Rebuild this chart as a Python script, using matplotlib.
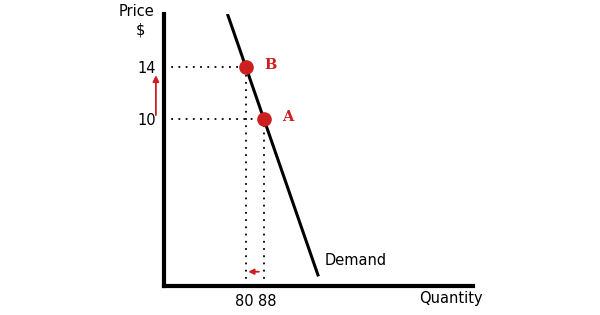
import matplotlib.pyplot as plt
from matplotlib.transforms import ScaledTranslation

# points on the demand curve
point_names = ["B", "A"]
quantities = [80, 88]
prices = [14, 10]

# demand line end points
demand_q = [72, 112]
demand_p = [18, -2]

x_ticks = [80, 88]
y_ticks = [14, 10]

red = "#cc1f1f"

fig = plt.figure(figsize=(6, 3.15), dpi=100)
ax = fig.add_axes([164 / 600, 29 / 315, 309 / 600, 272 / 315])
x_min, x_max = 43.6, 180.9
y_min, y_max = -2.85, 18.1
ax.set_xlim(x_min, x_max)
ax.set_ylim(y_min, y_max)

for s in ["top", "right"]:
    ax.spines[s].set_visible(False)
for s in ["left", "bottom"]:
    ax.spines[s].set_linewidth(3)

ax.set_xticks(x_ticks)
ax.set_yticks(y_ticks)
ax.tick_params(length=0, labelsize=10.5, pad=6)
# pull the two close tick labels apart a bit
for lab, dx in zip(ax.get_xticklabels(), [-2, 3]):
    lab.set_transform(lab.get_transform() + ScaledTranslation(dx / 100, 0, fig.dpi_scale_trans))

# demand curve
ax.plot(demand_q, demand_p, color="black", lw=2.2)
ax.text(demand_q[1] + 3, demand_p[1] + 0.8, "Demand", fontsize=10.5)

# dotted guides
for q, p in zip(quantities, prices):
    ax.plot([x_min, q], [p, p], color="black", ls=(0, (1, 3)), lw=1.3)
    ax.plot([q, q], [y_min, p], color="black", ls=(0, (1, 3)), lw=1.3)

ax.plot(quantities, prices, "o", color=red, markersize=9.5, zorder=5)
for name, q, p in zip(point_names, quantities, prices):
    ax.text(q + 8, p + 0.2, name, color=red, fontsize=10.5, fontweight="bold",
            family="DejaVu Serif", va="center")

# arrows
ax.annotate("", xy=(40, 13.6), xytext=(40, 10.1), annotation_clip=False,
            arrowprops=dict(arrowstyle="-|>", color=red, lw=1.3, mutation_scale=9))
ax.annotate("", xy=(79.8, -1.75), xytext=(87, -1.75), annotation_clip=False,
            arrowprops=dict(arrowstyle="-|>", color=red, lw=1.3, mutation_scale=8))

# axis titles
fig.text(136 / 600, 1 - 11 / 315, "Price", fontsize=10.5, ha="center", va="center")
fig.text(140 / 600, 1 - 30 / 315, "$", fontsize=10.5, ha="center", va="center")
fig.text(451 / 600, 1 - 299 / 315, "Quantity", fontsize=10.5, ha="center", va="center")

fig.savefig("out.png", dpi=100)
